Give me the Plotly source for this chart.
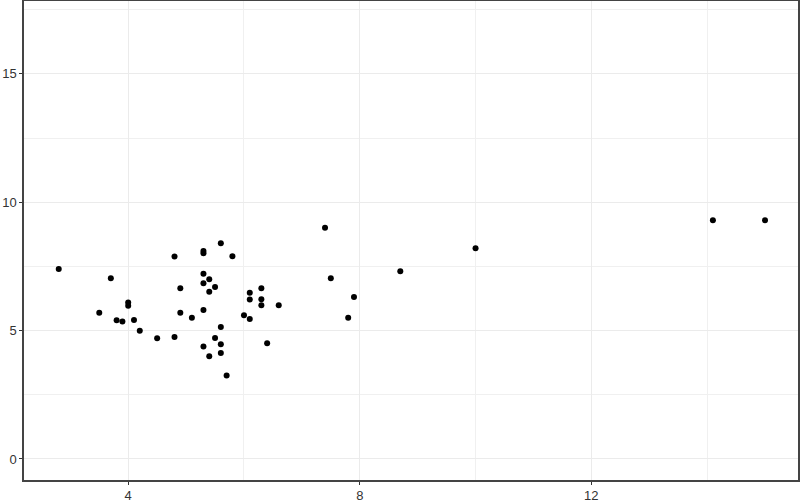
import plotly.graph_objects as go

x_vals = [2.8, 3.7, 4.8, 5.3, 5.3, 3.5, 4.0, 4.0, 3.8, 3.9, 4.1, 4.2, 4.5, 4.8,
          4.9, 4.9, 5.1, 5.3, 5.3, 5.4, 5.5, 5.4, 5.3, 5.3, 5.6, 5.8, 6.1, 6.3,
          6.1, 6.3, 6.3, 6.6, 6.0, 6.1, 5.6, 5.5, 5.6, 5.6, 5.4, 6.4, 5.7,
          7.4, 7.5, 7.9, 7.8, 8.7, 10.0, 14.1, 15.0]
y_vals = [7.4, 7.04, 7.89, 8.1, 8.01, 5.7, 6.09, 5.97, 5.4, 5.35, 5.41, 4.99, 4.7, 4.75,
          6.65, 5.7, 5.5, 7.21, 6.84, 7.0, 6.7, 6.51, 5.8, 4.38, 8.4, 7.9, 6.47, 6.65,
          6.21, 6.22, 5.99, 5.99, 5.6, 5.45, 5.14, 4.71, 4.47, 4.13, 4.0, 4.51, 3.25,
          9.01, 7.04, 6.31, 5.5, 7.31, 8.21, 9.3, 9.3]

fig = go.Figure(go.Scatter(
    x=x_vals, y=y_vals, mode="markers",
    marker=dict(color="black", size=6),
    showlegend=False, hoverinfo="x+y",
))

axis_common = dict(
    showline=True, mirror=True, linecolor="#444444", linewidth=1.5,
    ticks="outside", ticklen=3, tickwidth=1, tickcolor="#333333",
    gridcolor="#EBEBEB", gridwidth=1, zeroline=False,
    tickfont=dict(family="Liberation Sans, Arial, sans-serif", size=13, color="#333333"),
)

fig.update_layout(
    width=800, height=502,
    paper_bgcolor="white", plot_bgcolor="white",
    margin=dict(l=24, r=2, t=1, b=22, autoexpand=False),
    xaxis=dict(range=[2.2, 15.57], tickvals=[4, 8, 12],
               minor=dict(tickvals=[2, 6, 10, 14], showgrid=True, gridcolor="#F0F0F0", gridwidth=0.6, ticks=""),
               **axis_common),
    yaxis=dict(range=[-0.82, 17.84], tickvals=[0, 5, 10, 15],
               minor=dict(tickvals=[2.5, 7.5, 12.5, 17.5], showgrid=True, gridcolor="#F0F0F0", gridwidth=0.6, ticks=""),
               **axis_common),
)

fig.write_html("out.html", config={"displayModeBar": False},
               post_script="document.body.style.margin='0';document.body.style.overflow='hidden';")
